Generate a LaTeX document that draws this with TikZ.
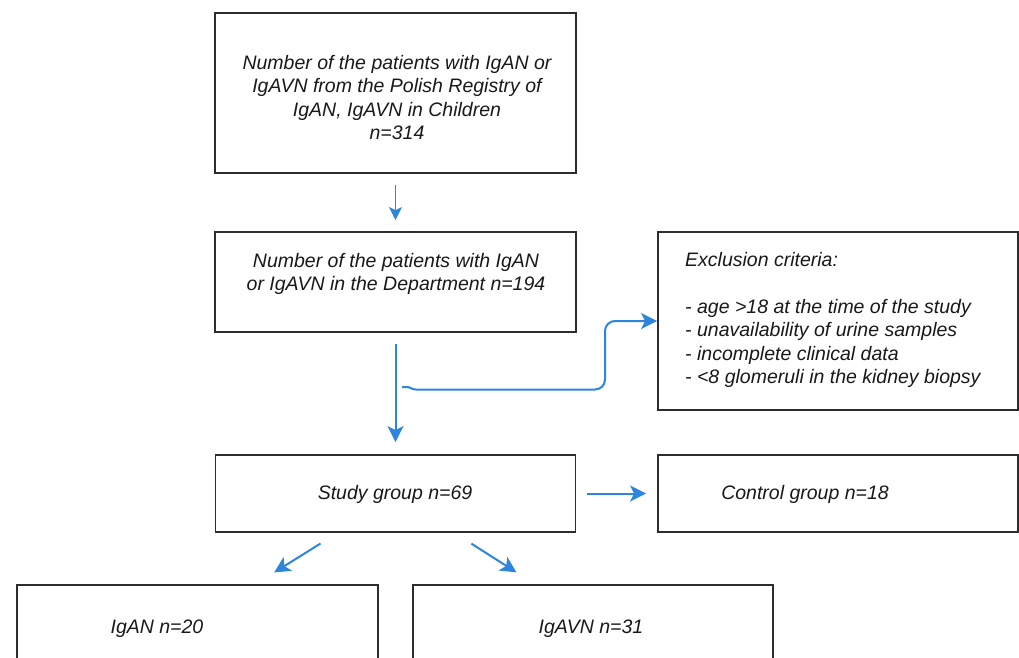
\documentclass[tikz,border=0pt]{standalone}
\usepackage{fontspec}
\setmainfont{Liberation Sans}
\usetikzlibrary{arrows.meta,calc}
\definecolor{arrblue}{RGB}{45,133,220}
\definecolor{boxgray}{RGB}{45,45,45}
\begin{document}
\begin{tikzpicture}[x=1pt,y=-1pt,
  box/.style={draw=boxgray,line width=1.8pt,inner sep=0pt,fill=none},
  txt/.style={inner sep=0pt,font=\itshape\fontsize{19.5}{23.5}\selectfont,text=black!90},
  arr/.style={draw=arrblue,line width=2pt,-{Stealth[length=16pt,width=16pt,inset=4pt]}},
  arrsmall/.style={draw=arrblue,line width=1.6pt,-{Stealth[length=13pt,width=13pt,inset=3pt]}}]
\useasboundingbox (0,0) rectangle (1019,657);
\clip (0,0) rectangle (1019,657);
\fill[white] (0,0) rectangle (1019,657);
% boxes
\node[box,minimum width=361pt,minimum height=160pt] (reg) at (395.5,93) {};
\node[box,minimum width=361pt,minimum height=100pt] (dept) at (395.5,282) {};
\node[box,minimum width=360pt,minimum height=178pt] (excl) at (838,321) {};
\node[box,minimum width=360pt,minimum height=77pt] (study) at (395.5,493.5) {};
\node[box,minimum width=360pt,minimum height=77pt] (ctrl) at (838,493.5) {};
\node[box,minimum width=361pt,minimum height=110pt] (igan) at (197.5,640) {};
\node[box,minimum width=360pt,minimum height=110pt] (igavn) at (593,640) {};
% texts
\node[txt,align=center] (treg) at (397,97.5) {Number of the patients with IgAN or\\IgAVN from the Polish Registry of\\IgAN, IgAVN in Children\\n=314};
\node[txt,align=center] (tdept) at (396,274) {Number of the patients with IgAN\\or IgAVN in the Department n=194};
\node[txt,align=left,anchor=west] (texcl) at (685,320) {Exclusion criteria:\\[23.3pt]- age >18 at the time of the study\\- unavailability of urine samples\\- incomplete clinical data\\- <8 glomeruli in the kidney biopsy};
\node[txt] (tstudy) at (395,494) {Study group n=69};
\node[txt] (tctrl) at (805,494) {Control group n=18};
\node[txt] (tigan) at (157,629) {IgAN n=20};
\node[txt] (tigavn) at (591,629) {IgAVN n=31};
% connectors
\draw[arrsmall,shorten <=11pt,shorten >=11pt] (reg.south) -- (dept.north);
\draw[arr,shorten <=11pt,shorten >=12pt] (dept.south) -- (study.north);
\draw[arr,shorten <=11pt,shorten >=11pt] (study.east) -- (ctrl.west);
\draw[arr,shorten <=20pt,shorten >=22pt] ($(study.south)+(-58,0)$) -- ($(igan.north)+(58,0)$);
\draw[arr,shorten <=20pt,shorten >=22pt] ($(study.south)+(59,0)$) -- ($(igavn.north)+(-58,0)$);
\coordinate (br) at (402,387);
\draw[arr] (br) -- (408,387) .. controls (411,387) and (411,389.5) .. (416,389.5) [rounded corners=10pt] -- (605,389.5) -- (605,321) -- (excl.west);
\end{tikzpicture}
\end{document}
